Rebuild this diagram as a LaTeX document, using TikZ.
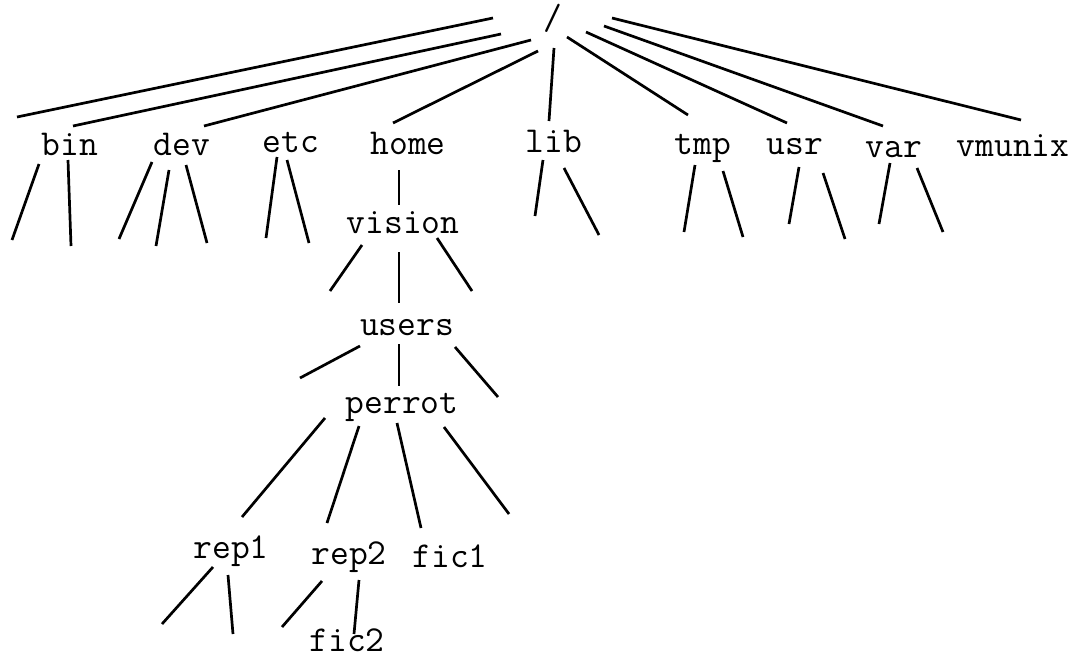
\documentclass[tikz,border=0pt]{standalone}
\usepackage{fontspec}
\newcommand\seg[3]{\coordinate (#1-s) at #2; \coordinate (#1-e) at #3; \draw[edge] (#1-s) -- (#1-e);}
\begin{document}
\begin{tikzpicture}[x=1pt,y=-1pt,
  lbl/.style={anchor=base, inner sep=0pt, font=\ttfamily\fontsize{36.5}{42}\selectfont},
  edge/.style={line width=2.7pt, line cap=butt}]
\useasboundingbox (0,0) rectangle (1074,659);
% nodes
\node[lbl] (root) at (553,29) {/};
\node[lbl] (bin) at (70,155) {bin};
\node[lbl] (dev) at (182,155) {dev};
\node[lbl] (etc) at (291,152) {etc};
\node[lbl] (home) at (408,154) {home};
\node[lbl] (lib) at (554,152) {lib};
\node[lbl] (tmp) at (703,154) {tmp};
\node[lbl] (usr) at (795,154) {usr};
\node[lbl] (var) at (894,157) {var};
\node[lbl] (vmunix) at (1013,156) {vmunix};
\node[lbl] (vision) at (403,233) {vision};
\node[lbl] (users) at (407,335) {users};
\node[lbl] (perrot) at (402,413) {perrot};
\node[lbl] (rep1) at (231,558) {rep1};
\node[lbl] (rep2) at (349,564) {rep2};
\node[lbl] (fic1) at (450,567) {fic1};
\node[lbl] (fic2) at (347,651) {fic2};
% root branches
\seg{r1}{(493,18)}{(17,117)}
\seg{r2}{(501,34)}{(73,126)}
\seg{r3}{(531,40)}{(204,126)}
\seg{r4}{(538,51)}{(393,123)}
\seg{r5}{(554,48)}{(549,121)}
\seg{r6}{(567,37)}{(688,115)}
\seg{r7}{(586,32)}{(787,123)}
\seg{r8}{(604,26)}{(883,126)}
\seg{r9}{(612,18)}{(1021,120)}
% bin
\seg{b1}{(39,164)}{(12,240)}
\seg{b2}{(68,160)}{(71,246)}
% dev
\seg{d1}{(152,162)}{(119,239)}
\seg{d2}{(169,170)}{(156,246)}
\seg{d3}{(186,165)}{(207,243)}
% etc
\seg{e1}{(277,157)}{(266,238)}
\seg{e2}{(287,160)}{(309,243)}
% home
\seg{h1}{(399,170)}{(399,205)}
% vision
\seg{v1}{(362,245)}{(330,291)}
\seg{v2}{(399,252)}{(399,303)}
\seg{v3}{(437,238)}{(472,291)}
% lib
\seg{l1}{(543,160)}{(535,216)}
\seg{l2}{(564,168)}{(599,235)}
% tmp
\seg{t1}{(695,165)}{(684,232)}
\seg{t2}{(723,171)}{(743,237)}
% usr
\seg{u1}{(799,167)}{(789,224)}
\seg{u2}{(823,173)}{(845,239)}
% var
\seg{a1}{(890,163)}{(879,224)}
\seg{a2}{(917,168)}{(943,232)}
% users
\seg{s1}{(360,346)}{(300,378)}
\seg{s2}{(399,344)}{(399,386)}
\seg{s3}{(455,347)}{(498,397)}
% perrot
\seg{p1}{(325,418)}{(242,517)}
\seg{p2}{(359,426)}{(327,523)}
\seg{p3}{(397,423)}{(421,528)}
\seg{p4}{(444,427)}{(509,514)}
% rep1
\seg{q1}{(213,567)}{(162,624)}
\seg{q2}{(228,575)}{(233,634)}
% rep2
\seg{w1}{(322,581)}{(282,627)}
\seg{w2}{(359,580)}{(354,634)}
\end{tikzpicture}
\end{document}
